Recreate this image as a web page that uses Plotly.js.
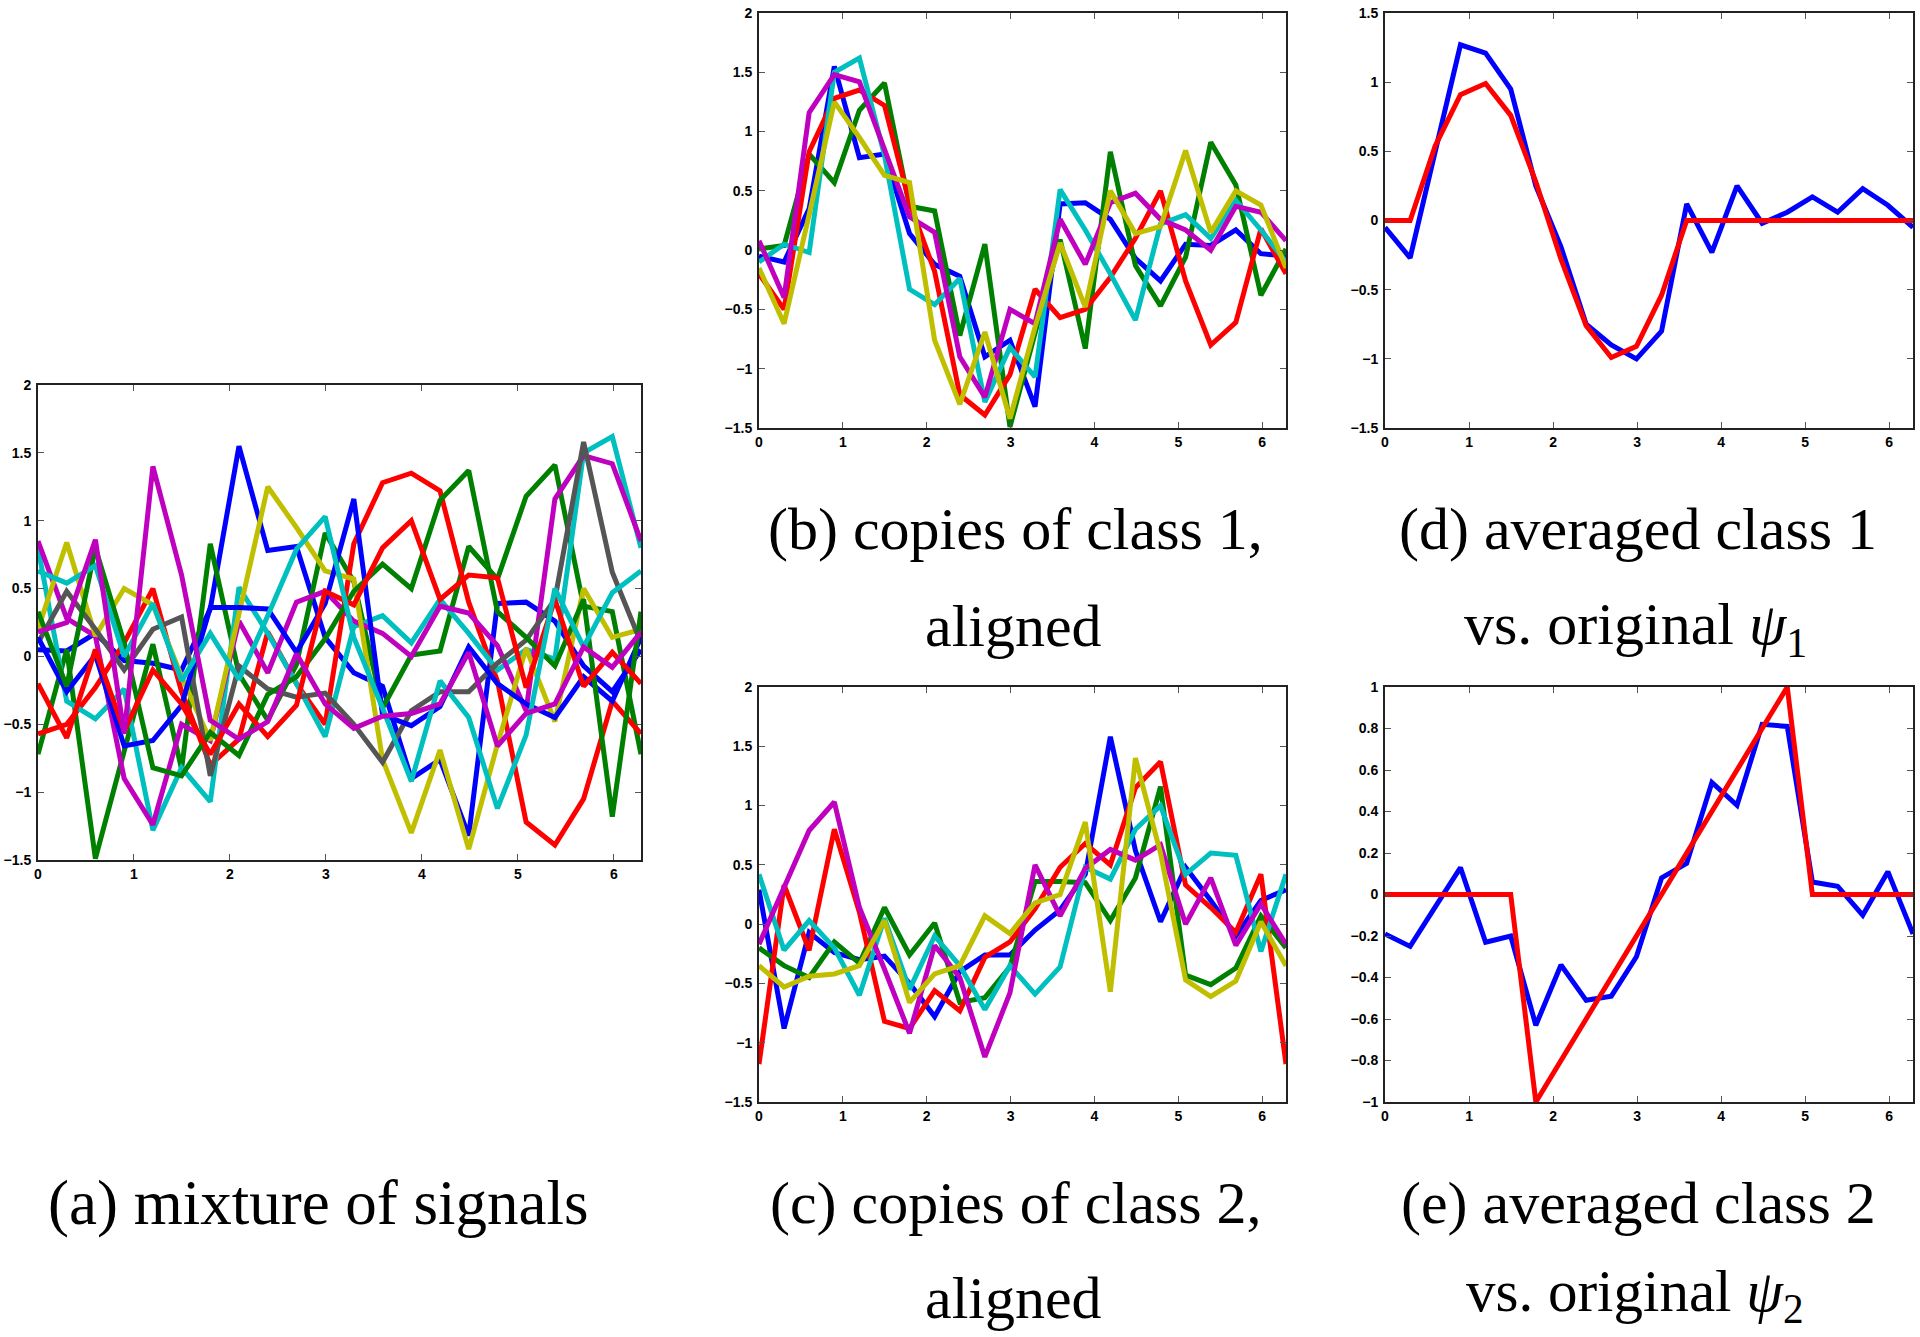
<!DOCTYPE html>
<html>
<head>
<meta charset="utf-8">
<script src="https://cdn.plot.ly/plotly-3.0.1.min.js"></script>
<style>html,body{margin:0;padding:0;background:#fff;}#chart{width:1920px;height:1337px;}</style>
</head>
<body>
<div id="chart"></div>
<script>
// sample positions (0 .. 2*pi, 22 points)
const xs = [0, 0.299, 0.598, 0.898, 1.197, 1.496, 1.795, 2.094, 2.394, 2.693, 2.992, 3.291, 3.590, 3.890, 4.189, 4.488, 4.787, 5.086, 5.386, 5.685, 5.984, 6.283];

// (a) mixture of signals (12 signals)
const mixBlue1    = [0.05,0.04,0.17,-0.03,-0.05,-0.1,0.35,1.55,0.78,0.81,0.14,-0.12,-0.22,-0.9,-0.76,-1.32,0.39,0.4,0.26,-0.07,-0.26,0.05];
const mixGreen1   = [-0.72,0.05,-1.49,-0.7,0.09,-0.83,0.83,-0.13,-0.47,-0.06,0.91,0.55,-0.38,0.01,0.04,0.81,0.57,1.18,1.41,0.37,0.33,-0.72];
const mixRed1     = [-0.57,-0.5,-0.23,0.1,0.5,-0.26,-0.8,-0.61,0.18,-0.2,-0.5,0.83,1.28,1.35,1.22,0.4,-0.18,-1.22,-1.39,-1.05,-0.33,-0.57];
const mixCyan1    = [0.8,-0.33,-0.46,-0.24,-1.28,-0.82,-1.07,0.51,0.17,-0.2,-0.59,0.22,0.3,0.1,0.42,0.17,-0.1,0.05,-0.02,1.5,1.62,0.8];
const mixMagenta1 = [0.85,0.28,0.15,-0.9,-1.24,-0.5,-0.62,0.26,-0.12,0.4,0.48,0.26,0.17,0.0,0.37,0.32,0.08,-0.4,1.16,1.48,1.42,0.85];
const mixYellow1  = [0.2,0.84,0.15,0.5,0.38,-0.15,-0.62,0.3,1.25,0.95,0.63,0.57,-0.76,-1.3,-0.69,-1.42,-0.65,0.06,-0.48,0.5,0.14,0.2];
const mixGray1    = [0.1,0.48,0.2,-0.1,0.2,0.29,-0.88,-0.07,-0.24,-0.3,-0.27,-0.5,-0.78,-0.4,-0.26,-0.26,-0.05,0.12,0.42,1.58,0.62,0.1];
const mixBlue2    = [0.14,-0.26,0.01,-0.66,-0.62,-0.36,0.36,0.36,0.35,0.03,0.39,1.16,-0.43,-0.51,-0.37,0.07,-0.2,-0.35,-0.45,-0.15,-0.33,0.14];
const mixGreen2   = [0.33,-0.22,0.8,0.1,-0.82,-0.88,-0.56,-0.73,-0.28,-0.15,0.13,0.48,0.68,0.5,1.15,1.37,0.33,0.14,-0.07,0.42,-1.18,0.33];
const mixRed2     = [-0.2,-0.6,0.05,-0.55,-0.1,-0.35,-0.72,-0.35,-0.59,-0.36,0.48,0.38,0.8,1.0,0.42,0.6,0.58,-0.23,0.42,-0.22,0.03,-0.2];
const mixCyan2    = [0.63,0.54,0.67,0.0,0.39,-0.18,0.17,-0.17,0.3,0.79,1.03,0.14,-0.38,-0.92,-0.18,-0.45,-1.12,-0.58,0.5,0.07,0.47,0.63];
const mixMagenta2 = [0.18,0.25,0.86,-0.57,1.4,0.6,-0.47,-0.61,-0.48,0.02,-0.35,-0.53,-0.44,-0.42,-0.35,0.03,-0.66,-0.42,-0.35,0.07,-0.08,0.18];

// (b) copies of class 1, aligned
const c1Blue    = [-0.05,-0.1,0.35,1.55,0.78,0.81,0.14,-0.12,-0.22,-0.9,-0.76,-1.32,0.39,0.4,0.26,-0.07,-0.26,0.05,0.04,0.17,-0.03,-0.05];
const c1Green   = [0.01,0.04,0.81,0.57,1.18,1.41,0.37,0.33,-0.72,0.05,-1.49,-0.7,0.09,-0.83,0.83,-0.13,-0.47,-0.06,0.91,0.55,-0.38,0.01];
const c1Red     = [-0.2,-0.5,0.83,1.28,1.35,1.22,0.4,-0.18,-1.22,-1.39,-1.05,-0.33,-0.57,-0.5,-0.23,0.1,0.5,-0.26,-0.8,-0.61,0.18,-0.2];
const c1Cyan    = [-0.1,0.05,-0.02,1.5,1.62,0.8,-0.33,-0.46,-0.24,-1.28,-0.82,-1.07,0.51,0.17,-0.2,-0.59,0.22,0.3,0.1,0.42,0.17,-0.1];
const c1Magenta = [0.08,-0.4,1.16,1.48,1.42,0.85,0.28,0.15,-0.9,-1.24,-0.5,-0.62,0.26,-0.12,0.4,0.48,0.26,0.17,0.0,0.37,0.32,0.08];
const c1Yellow  = [-0.15,-0.62,0.3,1.25,0.95,0.63,0.57,-0.76,-1.3,-0.69,-1.42,-0.65,0.06,-0.48,0.5,0.14,0.2,0.84,0.15,0.5,0.38,-0.15];

// (c) copies of class 2, aligned
const c2Blue    = [0.29,-0.88,-0.07,-0.24,-0.3,-0.27,-0.5,-0.78,-0.4,-0.26,-0.26,-0.05,0.12,0.42,1.58,0.62,0.02,0.48,0.2,-0.1,0.2,0.29];
const c2Green   = [-0.2,-0.35,-0.45,-0.15,-0.33,0.14,-0.26,0.01,-0.66,-0.62,-0.36,0.36,0.36,0.35,0.03,0.39,1.16,-0.43,-0.51,-0.37,0.07,-0.2];
const c2Red     = [-1.18,0.33,-0.22,0.8,0.1,-0.82,-0.88,-0.56,-0.73,-0.28,-0.15,0.13,0.48,0.68,0.5,1.15,1.37,0.33,0.14,-0.07,0.42,-1.18];
const c2Cyan    = [0.42,-0.22,0.03,-0.2,-0.6,0.05,-0.55,-0.1,-0.35,-0.72,-0.35,-0.59,-0.36,0.48,0.38,0.8,1.0,0.42,0.6,0.58,-0.23,0.42];
const c2Magenta = [-0.17,0.3,0.79,1.03,0.14,-0.38,-0.92,-0.18,-0.45,-1.12,-0.58,0.5,0.07,0.47,0.63,0.54,0.67,0.0,0.39,-0.18,0.17,-0.17];
const c2Yellow  = [-0.35,-0.53,-0.44,-0.42,-0.35,0.03,-0.66,-0.42,-0.35,0.07,-0.08,0.18,0.25,0.86,-0.57,1.4,0.6,-0.47,-0.61,-0.48,0.02,-0.35];

// (d) averaged class 1 vs original psi1
const avg1    = [-0.05,-0.27,0.5,1.27,1.21,0.95,0.25,-0.19,-0.75,-0.9,-1.0,-0.8,0.12,-0.23,0.25,-0.02,0.06,0.17,0.06,0.23,0.11,-0.05];
const psi1    = [0,0,0.54,0.91,0.99,0.76,0.28,-0.28,-0.76,-0.99,-0.91,-0.54,0,0,0,0,0,0,0,0,0,0];

// (e) averaged class 2 vs original psi2
const avg2    = [-0.19,-0.25,-0.06,0.13,-0.23,-0.2,-0.63,-0.34,-0.51,-0.49,-0.3,0.08,0.15,0.54,0.43,0.82,0.81,0.06,0.04,-0.1,0.11,-0.19];
const psi2    = [0,0,0,0,0,0,-1.0,-0.8,-0.6,-0.4,-0.2,0,0.2,0.4,0.6,0.8,1.0,0,0,0,0,0];

// captions
const captionA  = "(a) mixture of signals";
const captionB1 = "(b) copies of class 1,";
const captionB2 = "aligned";
const captionC1 = "(c) copies of class 2,";
const captionC2 = "aligned";
const captionD1 = "(d) averaged class 1";
const captionD2 = "vs. original <i>ψ</i><sub>1</sub>";
const captionE1 = "(e) averaged class 2";
const captionE2 = "vs. original <i>ψ</i><sub>2</sub>";

const COL = {b:'#0000FF', g:'#008000', r:'#FF0000', c:'#00BFBF', m:'#BF00BF', y:'#BFBF00', k:'#555555'};
const LW = 5;

function tr(y, color, ax) {
  return {x: xs, y: y, type: 'scatter', mode: 'lines', xaxis: 'x' + ax, yaxis: 'y' + ax,
          line: {color: color, width: LW}, hoverinfo: 'skip', showlegend: false};
}

const traces = [
  tr(mixBlue1, COL.b, ''), tr(mixGreen1, COL.g, ''), tr(mixRed1, COL.r, ''), tr(mixCyan1, COL.c, ''),
  tr(mixMagenta1, COL.m, ''), tr(mixYellow1, COL.y, ''), tr(mixGray1, COL.k, ''), tr(mixBlue2, COL.b, ''),
  tr(mixGreen2, COL.g, ''), tr(mixRed2, COL.r, ''), tr(mixCyan2, COL.c, ''), tr(mixMagenta2, COL.m, ''),
  tr(c1Blue, COL.b, '2'), tr(c1Green, COL.g, '2'), tr(c1Red, COL.r, '2'), tr(c1Cyan, COL.c, '2'),
  tr(c1Magenta, COL.m, '2'), tr(c1Yellow, COL.y, '2'),
  tr(c2Blue, COL.b, '3'), tr(c2Green, COL.g, '3'), tr(c2Red, COL.r, '3'), tr(c2Cyan, COL.c, '3'),
  tr(c2Magenta, COL.m, '3'), tr(c2Yellow, COL.y, '3'),
  tr(avg1, COL.b, '4'), tr(psi1, COL.r, '4'),
  tr(avg2, COL.b, '5'), tr(psi2, COL.r, '5')
];

const W = 1920, H = 1337;
function dx(l, r) { return [l / W, r / W]; }
function dy(t, b) { return [1 - b / H, 1 - t / H]; }

const tickFont = {family: 'Liberation Sans, Arial, sans-serif', size: 14, color: '#000', weight: 'bold'};
function xax(dom, anchor) {
  return {domain: dom, anchor: anchor, range: [0, 6.2832], dtick: 1, tick0: 0, ticks: 'inside', ticklen: 6,
          tickwidth: 1, tickcolor: '#555', showline: true, linecolor: '#222', linewidth: 2, mirror: 'ticks',
          showgrid: false, zeroline: false, tickfont: tickFont, ticklabelstandoff: 0, fixedrange: true};
}
function yax(dom, anchor, rng, dt) {
  return {domain: dom, anchor: anchor, range: rng, dtick: dt, tick0: 0, ticks: 'inside', ticklen: 6,
          tickwidth: 1, tickcolor: '#555', showline: true, linecolor: '#222', linewidth: 2, mirror: 'ticks',
          showgrid: false, zeroline: false, tickfont: tickFont, ticklabelstandoff: 2, fixedrange: true};
}

function cap(text, xc, yc, sz) {
  return {text: text, x: xc / W, y: 1 - yc / H, xref: 'paper', yref: 'paper', xanchor: 'center', yanchor: 'middle',
          showarrow: false, font: {family: 'Liberation Serif, Times New Roman, serif', size: sz, color: '#000'}};
}

const layout = {
  width: W, height: H, margin: {l: 0, r: 0, t: 0, b: 0}, paper_bgcolor: '#fff', plot_bgcolor: '#fff',
  showlegend: false,
  xaxis:  xax(dx(38, 641), 'y'),     yaxis:  yax(dy(385, 860), 'x', [-1.5, 2], 0.5),
  xaxis2: xax(dx(759, 1286), 'y2'),  yaxis2: yax(dy(13, 428), 'x2', [-1.5, 2], 0.5),
  xaxis3: xax(dx(759, 1286), 'y3'),  yaxis3: yax(dy(687, 1102), 'x3', [-1.5, 2], 0.5),
  xaxis4: xax(dx(1385, 1913), 'y4'), yaxis4: yax(dy(13, 428), 'x4', [-1.5, 1.5], 0.5),
  xaxis5: xax(dx(1385, 1913), 'y5'), yaxis5: yax(dy(687, 1102), 'x5', [-1, 1], 0.2),
  annotations: [
    cap(captionA, 318, 1203, 63),
    cap(captionB1, 1015, 529, 60), cap(captionB2, 1014, 626, 60),
    cap(captionD1, 1638, 529, 60), cap(captionD2, 1635, 628, 60),
    cap(captionC1, 1015, 1203, 60), cap(captionC2, 1014, 1298, 60),
    cap(captionE1, 1638, 1203, 60), cap(captionE2, 1635, 1295, 59)
  ]
};

Plotly.newPlot('chart', traces, layout, {displayModeBar: false, staticPlot: true});
</script>
</body>
</html>
